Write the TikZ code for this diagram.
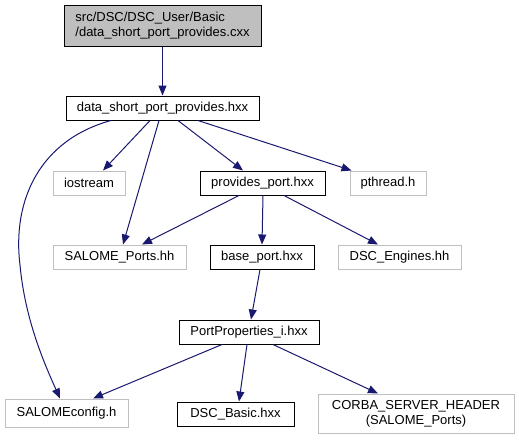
\documentclass[tikz,border=0pt]{standalone}
\usepackage{fontspec}
\setmainfont{Liberation Sans}
\usepackage{tikz}
\usetikzlibrary{arrows.meta, positioning}
\definecolor{edgeblue}{RGB}{25, 25, 112}
\definecolor{extgray}{RGB}{191, 191, 191}

\begin{document}
\begin{tikzpicture}[
  x=1pt, y=-1pt,
  file/.style={draw=black, line width=1pt, inner sep=0pt, minimum height=24pt, font=\fontsize{13}{15}\selectfont, align=center},
  ext/.style={file, draw=extgray},
  edge/.style={draw=edgeblue, line width=1pt, -{Triangle[length=10pt, width=8pt]}}
]
  \useasboundingbox (0,0) rectangle (519,440);

  \node[file, fill=extgray, minimum width=197pt, minimum height=41pt, align=left] (cxx) at (162.5,25.5) {src/DSC/DSC\_User/Basic\\/data\_short\_port\_provides.cxx};
  \node[file, minimum width=193pt] (dspp) at (162.5,108) {data\_short\_port\_provides.hxx};

  \node[ext, minimum width=72pt] (iostream) at (89,183) {iostream};
  \node[file, minimum width=125pt] (provides) at (262.5,183) {provides\_port.hxx};
  \node[ext, minimum width=76pt] (pthread) at (388,183) {pthread.h};

  \node[ext, minimum width=133pt] (ports) at (119.5,257) {SALOME\_Ports.hh};
  \node[file, minimum width=104pt] (base) at (262,257) {base\_port.hxx};
  \node[ext, minimum width=123pt] (engines) at (399.5,257) {DSC\_Engines.hh};

  \node[file, minimum width=140pt] (props) at (249,332) {PortProperties\_i.hxx};

  \node[ext, minimum width=123pt, minimum height=28pt] (config) at (66.5,413) {SALOMEconfig.h};
  \node[file, minimum width=117pt] (basic) at (235.5,414) {DSC\_Basic.hxx};
  \node[ext, minimum width=196pt, minimum height=39pt] (corba) at (416,413.5) {CORBA\_SERVER\_HEADER\\(SALOME\_Ports)};

  \draw[edge] (cxx.south) -- (dspp.north);

  \draw[edge] ([xshift=-12.5]dspp.south) -- ([xshift=14]iostream.north);
  \draw[edge] ([xshift=-3.5]dspp.south) -- ([xshift=3.5]ports.north);
  \draw[edge] ([xshift=15.5]dspp.south) -- ([xshift=-19.5]provides.north);
  \draw[edge] ([xshift=35.5]dspp.south) -- ([xshift=2]pthread.north west);
  \draw[edge] ([xshift=-51.5]dspp.south) .. controls (40,140) and (12,200) .. (20,265)
    .. controls (25,320) and (45,365) .. ([xshift=-6.5]config.north);

  \draw[edge] ([xshift=-23.5]provides.south) -- ([xshift=22.5]ports.north);
  \draw[edge] ([xshift=0.5]provides.south) -- (base.north);
  \draw[edge] ([xshift=21.5]provides.south) -- ([xshift=-21.5]engines.north);

  \draw[edge] ([xshift=-2]base.south) -- ([xshift=2]props.north);

  \draw[edge] ([xshift=-27]props.south) -- ([xshift=26.5]config.north);
  \draw[edge] ([xshift=-2]props.south) -- ([xshift=3.5]basic.north);
  \draw[edge] ([xshift=24]props.south) -- ([xshift=-38]corba.north);
\end{tikzpicture}
\end{document}
